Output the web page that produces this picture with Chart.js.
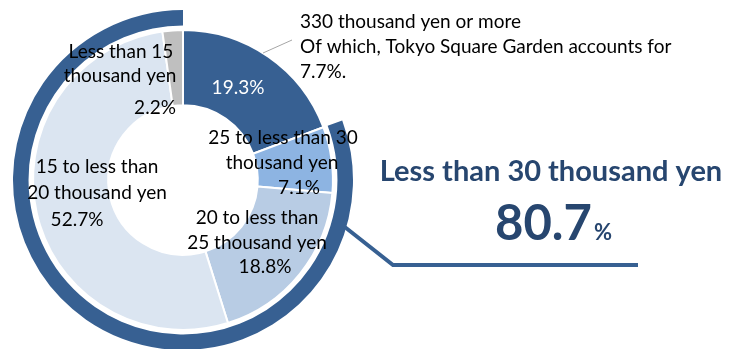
<!DOCTYPE html>
<html>
<head>
<meta charset="utf-8">
<script src="https://cdn.jsdelivr.net/npm/chart.js@4/dist/chart.umd.min.js"></script>
<style>
html,body{margin:0;padding:0;background:#fff;overflow:hidden;width:729px;height:349px;}
canvas{display:block;}
</style>
</head>
<body>
<canvas id="c" width="729" height="352"></canvas>
<script>
// ---- data ----
const categories = ["330 thousand yen or more", "25 to less than 30 thousand yen", "20 to less than 25 thousand yen", "15 to less than 20 thousand yen", "Less than 15 thousand yen"];
const shares = [19.3, 7.1, 18.8, 52.7, 2.2];
const labelLines = [
  ["19.3%"],
  ["25 to less than 30", "thousand yen", "7.1%"],
  ["20 to less than", "25 thousand yen", "18.8%"],
  ["15 to less than", "20 thousand yen", "52.7%"],
  ["Less than 15", "thousand yen", "2.2%"]
];
const highlightSplit = [19.3, 80.7];   // [others, less than 30 thousand yen]
const highlightTitle = "Less than 30 thousand yen";
const highlightValue = "80.7";
const noteLines = ["330 thousand yen or more", "Of which, Tokyo Square Garden accounts for", "7.7%."];

// ---- styles ----
const DARK = "#376092";
const sliceColors = [DARK, "#8DB4E2", "#B8CCE4", "#DBE5F1", "#BFBFBF"];
const FONT = "Lato, 'Open Sans', sans-serif";

// label placement (offsets from chart centre) per line
const labelPos = [
  [[55, -92]],
  [[100, -42], [99, -17], [116, 8]],
  [[74, 38], [74, 63], [82, 87]],
  [[-86, -13], [-86, 13], [-106, 40]],
  [[-62, -128], [-63, -104], [-28, -72]]
];

const labelPlugin = {
  id: 'labels',
  afterDraw(chart) {
    const ctx = chart.ctx;
    const meta = chart.getDatasetMeta(2);
    const arc0 = meta.data[0];
    const cx = arc0.x, cy = arc0.y;
    const ringMeta = chart.getDatasetMeta(0);
    const R = ringMeta.data[1].outerRadius;
    ctx.save();
    ctx.textAlign = 'center';
    ctx.textBaseline = 'middle';
    ctx.font = "19px " + FONT;
    labelLines.forEach((lines, i) => {
      lines.forEach((t, j) => {
        const p = labelPos[i][j];
        ctx.fillStyle = i === 0 ? '#FFFFFF' : '#000000';
        ctx.fillText(t, cx + p[0], cy + p[1]);
      });
    });
    // note with leader line
    ctx.strokeStyle = '#A6A6A6';
    ctx.lineWidth = 1;
    ctx.beginPath();
    ctx.moveTo(cx + 80, cy - 127);
    ctx.lineTo(cx + 109, cy - 140);
    ctx.stroke();
    ctx.textAlign = 'left';
    ctx.fillStyle = '#000';
    ctx.font = "19px " + FONT;
    noteLines.forEach((t, j) => ctx.fillText(t, cx + 117, cy - 158 + j * 25));
    // callout line from ring
    const ang = 16 * Math.PI / 180;
    ctx.strokeStyle = DARK;
    ctx.lineWidth = 4;
    ctx.lineJoin = 'miter';
    ctx.beginPath();
    ctx.moveTo(cx + (R - 3) * Math.cos(ang), cy + (R - 3) * Math.sin(ang));
    ctx.lineTo(cx + 210, cy + 85);
    ctx.lineTo(cx + 455, cy + 85);
    ctx.stroke();
    // highlight text
    ctx.fillStyle = '#27466F';
    ctx.textAlign = 'center';
    ctx.font = "bold 29px " + FONT;
    ctx.fillText(highlightTitle, cx + 368, cy - 8);
    ctx.textBaseline = 'alphabetic';
    ctx.textAlign = 'left';
    ctx.font = "bold 49px " + FONT;
    const w = ctx.measureText(highlightValue).width;
    const x0 = cx + 312;
    ctx.fillText(highlightValue, x0, cy + 60);
    ctx.font = "bold 22px " + FONT;
    ctx.fillText("%", x0 + w + 2, cy + 60);
    ctx.restore();
  }
};

new Chart(document.getElementById('c'), {
  type: 'doughnut',
  data: {
    labels: categories,
    datasets: [
      { data: highlightSplit, backgroundColor: ['rgba(0,0,0,0)', DARK], borderWidth: 0, weight: 15.5 },
      { data: [100], backgroundColor: ['rgba(0,0,0,0)'], borderWidth: 0, weight: 4.5 },
      { data: shares, backgroundColor: sliceColors, borderColor: '#FFFFFF', borderWidth: 2, weight: 75 }
    ]
  },
  options: {
    responsive: false,
    animation: false,
    events: [],
    cutout: '44%',
    layout: { padding: { left: 13, top: 10, right: 376, bottom: 2 } },
    plugins: { legend: { display: false }, tooltip: { enabled: false } }
  },
  plugins: [labelPlugin]
});
</script>
</body>
</html>
